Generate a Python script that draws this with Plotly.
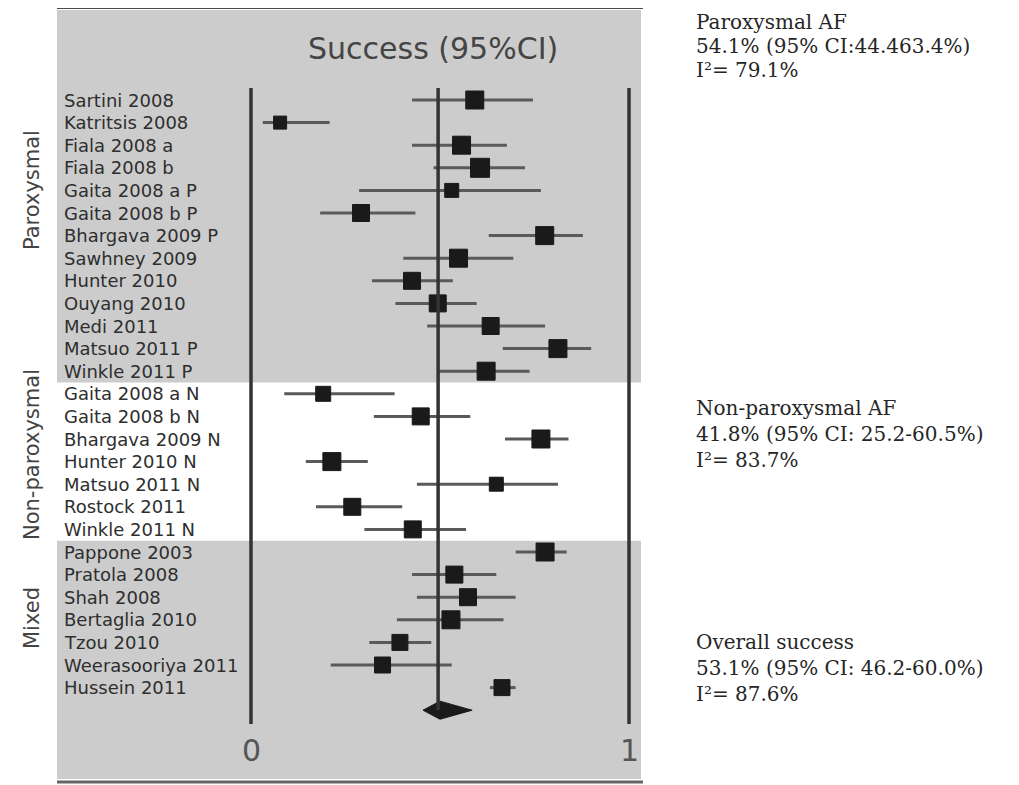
import plotly.graph_objects as go

# ---------------- data ----------------
studies = [
    "Sartini 2008", "Katritsis 2008", "Fiala 2008 a", "Fiala 2008 b",
    "Gaita 2008 a P", "Gaita 2008 b P", "Bhargava 2009 P", "Sawhney 2009",
    "Hunter 2010", "Ouyang 2010", "Medi 2011", "Matsuo 2011 P", "Winkle 2011 P",
    "Gaita 2008 a N", "Gaita 2008 b N", "Bhargava 2009 N", "Hunter 2010 N",
    "Matsuo 2011 N", "Rostock 2011", "Winkle 2011 N",
    "Pappone 2003", "Pratola 2008", "Shah 2008", "Bertaglia 2010",
    "Tzou 2010", "Weerasooriya 2011", "Hussein 2011",
]
success = [0.592, 0.077, 0.557, 0.606, 0.531, 0.291, 0.777, 0.549,
           0.426, 0.494, 0.634, 0.812, 0.622,
           0.191, 0.449, 0.767, 0.214, 0.649, 0.268, 0.428,
           0.778, 0.538, 0.574, 0.529, 0.394, 0.348, 0.664]
ci_low = [0.426, 0.031, 0.426, 0.483, 0.286, 0.183, 0.629, 0.403,
          0.320, 0.382, 0.466, 0.666, 0.494,
          0.088, 0.325, 0.672, 0.145, 0.439, 0.172, 0.300,
          0.700, 0.426, 0.439, 0.386, 0.313, 0.211, 0.632]
ci_high = [0.746, 0.208, 0.677, 0.725, 0.767, 0.435, 0.878, 0.694,
           0.534, 0.597, 0.778, 0.900, 0.737,
           0.380, 0.580, 0.840, 0.309, 0.812, 0.400, 0.569,
           0.835, 0.649, 0.700, 0.668, 0.477, 0.531, 0.700]
weights = [18, 13, 18, 19, 14, 17, 18, 18, 17, 17, 17, 18, 18,
           15, 17, 18, 18, 14, 17, 17,
           18, 17, 17, 18, 16, 16, 16]
groups = ["Paroxysmal", "Non-paroxysmal", "Mixed"]
group_sizes = [13, 7, 7]

overall_est = 0.50
overall_low = 0.455
overall_high = 0.585

x_ticks = [0, 1]
title_text = "Success (95%CI)"

summary_blocks = [
    ["Paroxysmal AF", "54.1% (95% CI:44.463.4%)", "I²= 79.1%"],
    ["Non-paroxysmal AF", "41.8% (95% CI: 25.2-60.5%)", "I²= 83.7%"],
    ["Overall success", "53.1% (95% CI: 46.2-60.0%)", "I²= 87.6%"],
]

# ---------------- geometry helpers (page pixels) ----------------
PAGE_W, PAGE_H = 1019, 785
OFF = 8                          # default body margin of the html page
FIG_W, FIG_H = PAGE_W - OFF, PAGE_H - OFF
X0_PX, X1_PX = 251, 629          # page pixel positions of value 0 and 1
ROW0_PX, ROW_STEP = 100, 22.6    # first row centre and row spacing
scale = X1_PX - X0_PX


def px_x(p):
    return (p - X0_PX) / scale


def px_y(p):
    return (p - ROW0_PX) / ROW_STEP


rows = list(range(len(studies)))
n = len(studies)

fig = go.Figure()

shapes = []
start = 0
for gi, gs in enumerate(group_sizes):
    top = start - 0.5
    bot = start + gs - 0.5
    if gi == 0:
        top = px_y(10)
    if gi == len(group_sizes) - 1:
        bot = px_y(779)
    if gi != 1:
        shapes.append(dict(type="rect", xref="x", yref="y",
                           x0=px_x(57), x1=px_x(641), y0=top, y1=bot,
                           fillcolor="#cccccc", line=dict(width=0), layer="below"))
    start += gs

# top and bottom border lines
shapes.append(dict(type="line", xref="x", yref="y", x0=px_x(57), x1=px_x(643),
                   y0=px_y(7), y1=px_y(7), line=dict(color="#4a4a4a", width=4)))
shapes.append(dict(type="line", xref="x", yref="y", x0=px_x(57), x1=px_x(643),
                   y0=px_y(782), y1=px_y(782), line=dict(color="#666666", width=3)))

# vertical axis lines at 0 and 1
for t in x_ticks:
    shapes.append(dict(type="line", xref="x", yref="y", x0=t, x1=t,
                       y0=px_y(88), y1=px_y(724), line=dict(color="#333333", width=3.5)))
# pooled estimate line
shapes.append(dict(type="line", xref="x", yref="y", x0=overall_est - 0.005, x1=overall_est - 0.005,
                   y0=px_y(88), y1=n, line=dict(color="#333333", width=3.5)))

# study CIs and point estimates
fig.add_trace(go.Scatter(
    x=success, y=rows, mode="markers",
    marker=dict(symbol="square", size=weights, color="#1a1a1a", opacity=1,
                line=dict(color="#1a1a1a", width=1)),
    error_x=dict(type="data", symmetric=False,
                 array=[h - e for h, e in zip(ci_high, success)],
                 arrayminus=[e - l for e, l in zip(success, ci_low)],
                 color="#5a5a5a", thickness=3, width=0),
    hoverinfo="skip", showlegend=False,
))

# overall diamond
dy = 0.4
fig.add_trace(go.Scatter(
    x=[overall_low, overall_est, overall_high, overall_est, overall_low],
    y=[n, n - dy, n, n + dy, n],
    mode="lines", fill="toself", fillcolor="#1a1a1a",
    line=dict(color="#1a1a1a", width=1), hoverinfo="skip", showlegend=False,
))

annotations = []
# study labels
for r, s in zip(rows, studies):
    annotations.append(dict(x=px_x(62), xref="x", y=r, yref="y", text=s,
                            showarrow=False, xanchor="left", yanchor="middle",
                            font=dict(family="DejaVu Sans", size=18, color="#2e2e2e")))

# group labels
group_centers_px = [190, 455, 618]
for g, cy in zip(groups, group_centers_px):
    annotations.append(dict(x=px_x(32), xref="x", y=px_y(cy), yref="y", text=g,
                            textangle=-90, showarrow=False, xanchor="center", yanchor="middle",
                            font=dict(family="DejaVu Sans", size=21, color="#444444")))

# title
annotations.append(dict(x=px_x(433), xref="x", y=px_y(48), yref="y", text=title_text,
                        showarrow=False, xanchor="center", yanchor="middle",
                        font=dict(family="DejaVu Sans", size=30, color="#444444")))

# x tick labels
for t in x_ticks:
    annotations.append(dict(x=t, xref="x", y=px_y(750), yref="y", text=str(t),
                            showarrow=False, xanchor="center", yanchor="middle",
                            font=dict(family="DejaVu Sans", size=30, color="#555555")))

# right-hand summary text
block_lines_px = [[22, 46, 70], [408, 434, 460], [642, 668, 694]]
for block, ys in zip(summary_blocks, block_lines_px):
    for line, yy in zip(block, ys):
        annotations.append(dict(x=px_x(694), xref="x", y=px_y(yy), yref="y", text=line,
                                showarrow=False, xanchor="left", yanchor="middle",
                                font=dict(family="DejaVu Serif", size=20, color="#262626")))

fig.update_layout(
    width=FIG_W, height=FIG_H,
    margin=dict(l=0, r=0, t=0, b=0),
    paper_bgcolor="white", plot_bgcolor="rgba(0,0,0,0)",
    xaxis=dict(range=[px_x(OFF), px_x(OFF + FIG_W)], visible=False, fixedrange=True),
    yaxis=dict(range=[px_y(OFF + FIG_H), px_y(OFF)], visible=False, fixedrange=True),
    shapes=shapes, annotations=annotations,
)

fig.write_html("out.html")
